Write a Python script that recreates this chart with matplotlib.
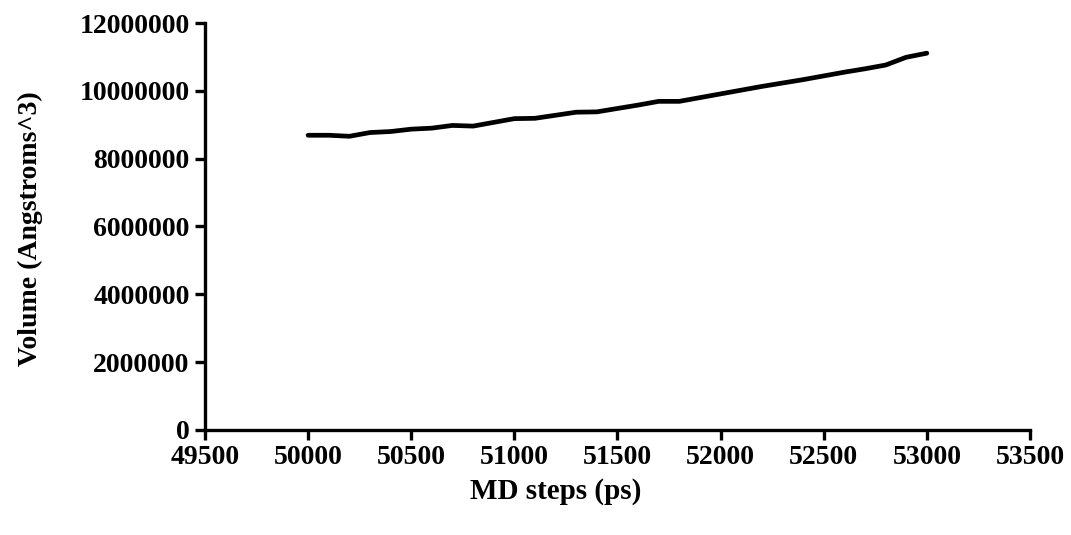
import matplotlib
matplotlib.use("Agg")
import matplotlib.pyplot as plt
from matplotlib.ticker import MultipleLocator, FormatStrFormatter

# MD simulation volume over time
md_steps = [50000, 50100, 50200, 50300, 50400, 50500, 50600, 50700, 50800, 50900,
            51000, 51100, 51200, 51300, 51400, 51500, 51600, 51700, 51800, 51900,
            52000, 52100, 52200, 52300, 52400, 52500, 52600, 52700, 52800, 52900,
            53000]
volume = [8690000, 8690000, 8660000, 8770000, 8800000, 8870000, 8900000, 8980000,
          8960000, 9070000, 9180000, 9190000, 9280000, 9370000, 9380000, 9480000,
          9580000, 9690000, 9690000, 9800000, 9910000, 10020000, 10130000, 10230000,
          10330000, 10440000, 10550000, 10650000, 10760000, 10990000, 11110000]

x_label = "MD steps (ps)"
y_label = "Volume (Angstroms^3)"

plt.rcParams["font.family"] = ["Liberation Serif", "DejaVu Serif"]
plt.rcParams["font.weight"] = "bold"

fig = plt.figure(figsize=(10.71, 5.35), dpi=100)
ax = fig.add_axes([0.1914, 0.1963, 0.7703, 0.7607])

ax.plot(md_steps, volume, color="black", linewidth=3.4,
        solid_joinstyle="round", solid_capstyle="round")

ax.set_xlim(49500, 53500)
ax.set_ylim(0, 12000000)
ax.xaxis.set_major_locator(MultipleLocator(500))
ax.yaxis.set_major_locator(MultipleLocator(2000000))
ax.yaxis.set_major_formatter(FormatStrFormatter("%d"))
ax.xaxis.set_major_formatter(FormatStrFormatter("%d"))

for side in ("top", "right"):
    ax.spines[side].set_visible(False)
for side in ("left", "bottom"):
    ax.spines[side].set_linewidth(2.4)
    ax.spines[side].set_color("black")

ax.tick_params(axis="both", direction="out", length=7, width=2.4,
               labelsize=20, colors="black", pad=4)
for lab in ax.get_xticklabels() + ax.get_yticklabels():
    lab.set_fontweight("bold")

ax.set_xlabel(x_label, fontsize=21, fontweight="bold")
ax.set_ylabel(y_label, fontsize=20, fontweight="bold")
ax.xaxis.label.set_va("center")
ax.yaxis.label.set_va("center")
ax.xaxis.set_label_coords(0.425, -0.152)
ax.yaxis.set_label_coords(-0.212, 0.494)

fig.savefig("out.png", dpi=100, facecolor="white")
